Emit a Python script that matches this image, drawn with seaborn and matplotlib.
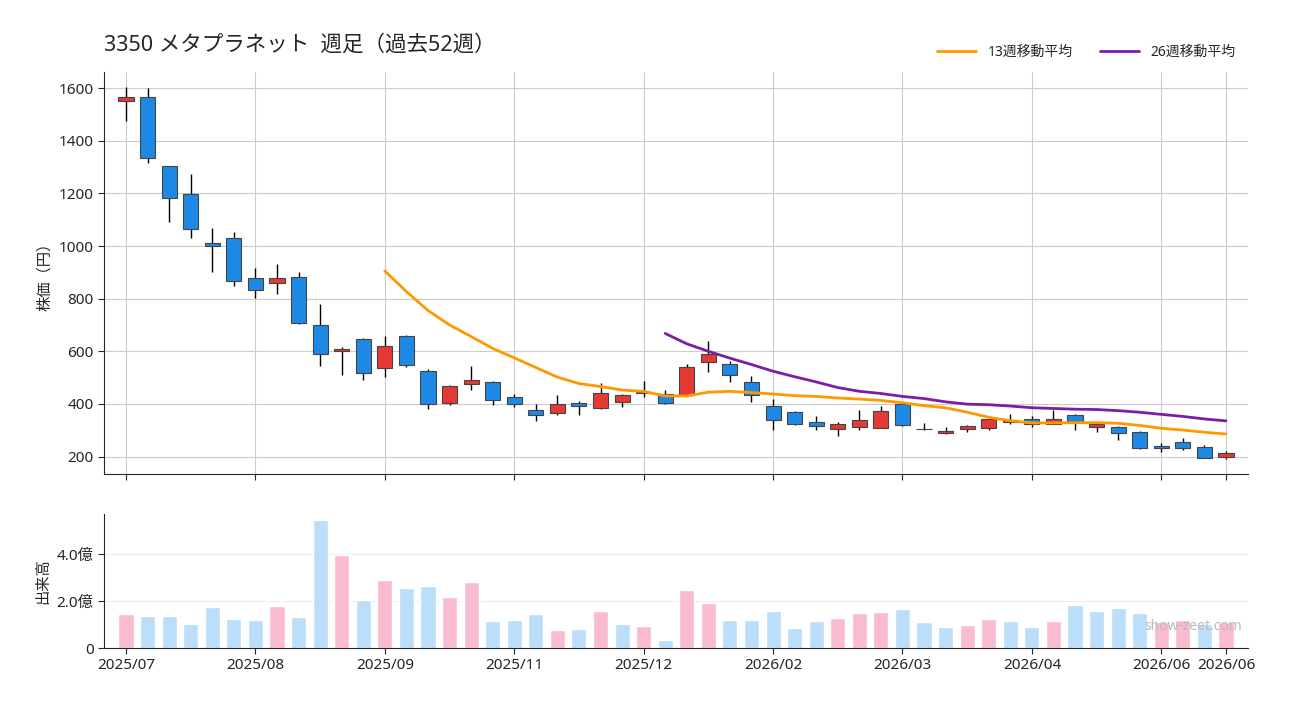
import numpy as np
import pandas as pd
import matplotlib
matplotlib.use("Agg")
import matplotlib.pyplot as plt
import seaborn as sns

# weekly OHLC (yen), 52 weeks
opens = [1552, 1565, 1303, 1197, 1011, 1030, 878, 859, 882, 700,
         601, 647, 537, 658, 525, 404, 476, 483, 428, 377,
         366, 405, 385, 407, 442, 438, 436, 560, 552, 483,
         392, 370, 332, 305, 313, 309, 400, 306, 290, 305,
         309, 332, 343, 324, 358, 313, 313, 294, 241, 254,
         238, 199]
highs = [1605, 1601, 1305, 1274, 1069, 1054, 917, 932, 902, 780,
         617, 650, 657, 663, 534, 472, 543, 486, 439, 399,
         433, 410, 480, 439, 486, 454, 553, 640, 564, 507,
         420, 372, 353, 333, 378, 393, 401, 328, 314, 321,
         347, 361, 355, 378, 363, 330, 315, 299, 251, 272,
         246, 223]
lows = [1476, 1317, 1093, 1032, 901, 850, 801, 816, 705, 543,
        511, 492, 501, 539, 382, 395, 452, 395, 387, 334,
        357, 357, 382, 387, 427, 400, 433, 520, 482, 406,
        302, 320, 302, 280, 302, 307, 315, 300, 285, 293,
        302, 325, 311, 324, 302, 295, 262, 230, 216, 224,
        194, 191]
closes = [1566, 1333, 1182, 1064, 1001, 868, 832, 878, 708, 590,
          609, 518, 620, 547, 400, 469, 492, 415, 400, 358,
          400, 392, 442, 435, 446, 404, 540, 590, 510, 434,
          339, 324, 317, 324, 339, 373, 320, 304, 299, 318,
          343, 339, 324, 343, 330, 324, 290, 233, 233, 233,
          195, 214]
# weekly volume in 億株
volume_oku = [1.45, 1.36, 1.36, 1.02, 1.74, 1.23, 1.19, 1.79, 1.32, 5.45,
              3.96, 2.04, 2.89, 2.55, 2.64, 2.17, 2.81, 1.15, 1.19, 1.45,
              0.77, 0.81, 1.57, 1.02, 0.94, 0.34, 2.47, 1.91, 1.19, 1.19,
              1.57, 0.85, 1.15, 1.28, 1.49, 1.53, 1.66, 1.11, 0.89, 0.98,
              1.23, 1.15, 0.89, 1.15, 1.83, 1.57, 1.70, 1.49, 1.11, 1.19,
              1.02, 1.11]

tick_pos = [0, 6, 12, 18, 24, 30, 36, 42, 48, 51]
tick_labels = ["2025/07", "2025/08", "2025/09", "2025/11", "2025/12",
               "2026/02", "2026/03", "2026/04", "2026/06", "2026/06"]

df = pd.DataFrame({"open": opens, "high": highs, "low": lows,
                   "close": closes, "vol": volume_oku})
df["week"] = np.arange(len(df))
df["ma13"] = df["close"].rolling(13).mean()
df["ma26"] = df["close"].rolling(26).mean()
df["up"] = df["close"] >= df["open"]
prev = df["close"].shift(1).fillna(df["open"])
df["vol_dir"] = np.where(df["close"] >= prev, "up", "down")

sns.set_style("white")
plt.rcParams["font.family"] = ["Noto Sans", "Noto Sans CJK JP", "DejaVu Sans"]
plt.rcParams["axes.unicode_minus"] = False

fig = plt.figure(figsize=(13, 7.2), dpi=100)
ax = fig.add_axes([0.08, 0.342, 0.88, 0.558])
ax2 = fig.add_axes([0.08, 0.1, 0.88, 0.186])

# candles
body_bottom = np.minimum(df["open"], df["close"])
body_h = np.maximum((df["close"] - df["open"]).abs(), 2)
body_col = np.where(df["up"], "#E53935", "#1E88E5")
ax.vlines(df["week"], df["low"], df["high"], color="black", lw=1, zorder=2)
ax.bar(df["week"], body_h, bottom=body_bottom, width=0.7, color=body_col,
       edgecolor="#444444", linewidth=0.8, zorder=3)

sns.lineplot(data=df, x="week", y="ma13", ax=ax, color="#FF9800", lw=2,
             label="13週移動平均", zorder=4)
sns.lineplot(data=df, x="week", y="ma26", ax=ax, color="#7B1FA2", lw=2,
             label="26週移動平均", zorder=4)

ax.set_xlim(-1.02, 52.02)
ax.set_ylim(135, 1661)
ax.set_yticks([200, 400, 600, 800, 1000, 1200, 1400, 1600])
ax.set_xticks(tick_pos)
ax.set_xticklabels([])
ax.grid(True, color="#cccccc", lw=0.8)
ax.set_axisbelow(True)
ax.set_xlabel("")
ax.set_ylabel("株価（円）", fontsize=11)
ax.tick_params(axis="both", length=4, labelsize=11, left=True, bottom=True)
for s in ["top", "right"]:
    ax.spines[s].set_visible(False)
ax.legend(loc="lower right", bbox_to_anchor=(1.0, 1.0), ncol=2, frameon=False,
          fontsize=10, handlelength=2.8, columnspacing=2.0)
fig.text(0.08, 0.937, "3350 メタプラネット  週足（過去52週）", fontsize=15.5,
         ha="left", va="center")

# volume
sns.barplot(data=df, x="week", y="vol", hue="vol_dir", dodge=False,
            palette={"up": "#F8BBD0", "down": "#BBDEFB"}, saturation=1,
            width=0.7, legend=False, ax=ax2)
ax2.set_xlim(-1.02, 52.02)
ax2.set_ylim(0, 5.7)
ax2.set_yticks([0, 2, 4])
ax2.set_yticklabels(["0", "2.0億", "4.0億"])
ax2.set_xticks(tick_pos)
ax2.set_xticklabels(tick_labels)
ax2.grid(True, axis="y", color="#eeeeee", lw=0.8)
ax2.set_axisbelow(True)
ax2.set_xlabel("")
ax2.set_ylabel("出来高", fontsize=11)
ax2.tick_params(axis="both", length=4, labelsize=11, left=True, bottom=True)
for s in ["top", "right"]:
    ax2.spines[s].set_visible(False)
ax2.text(0.995, 0.16, "show-zeet.com", transform=ax2.transAxes, ha="right",
         va="center", fontsize=10, color="#bbbbbb")

fig.savefig("out.png", dpi=100)
